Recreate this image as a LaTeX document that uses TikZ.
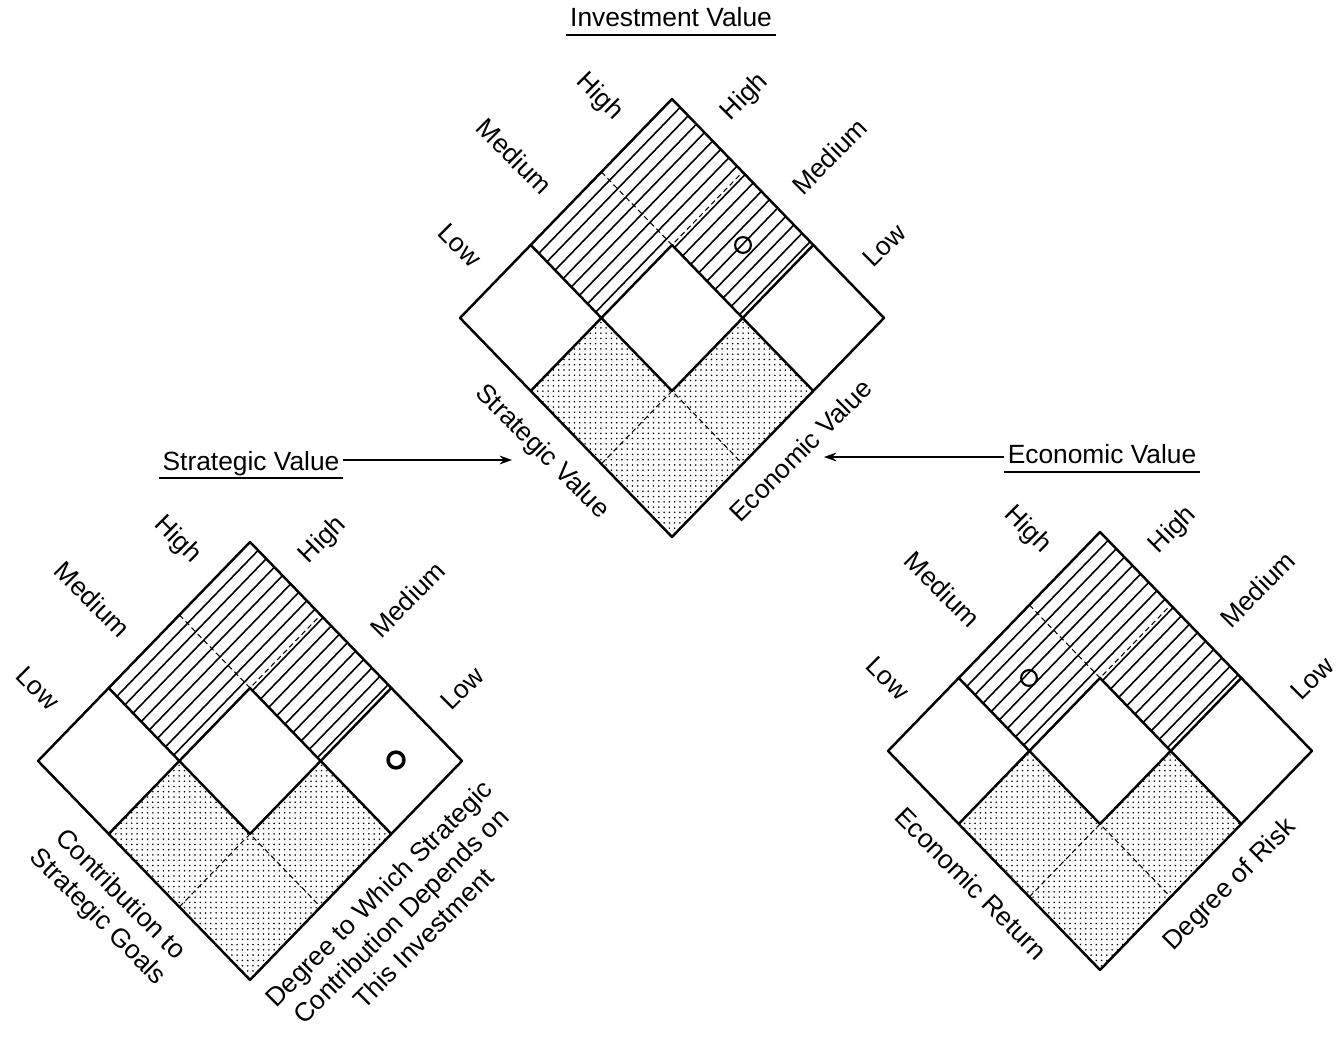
\documentclass[tikz,border=0pt]{standalone}
\usepackage{fontspec}
\setmainfont{Liberation Sans}
\usepackage{tikz}
\usetikzlibrary{patterns,arrows.meta}

% one rotated 3x3 value grid, #1 name, #2 top corner, #3 and #4 lower axis texts
\newcommand{\valuegrid}[4]{%
  \begin{scope}[shift={#2}, x={(-1.4133cm,-1.46cm)}, y={(1.4133cm,-1.46cm)}]
    % high cells
    \begin{scope}
      \clip (0,0) -- (2,0) -- (2,1) -- (1,1) -- (1,2) -- (0,2) -- cycle;
      \foreach \k in {1,...,17}
        \draw[hatchline] (-0.1,{\k*0.115}) -- (2.1,{\k*0.115});
    \end{scope}
    % low cells
    \fill[stipple] (3,1) -- (2,1) -- (2,2) -- (1,2) -- (1,3) -- (3,3) -- cycle;
    \draw[innerline] (1,0) -- (1,1) -- (0,1);
    \draw[innerline] (3,2) -- (2,2) -- (2,3);
    \draw[gridline] (2,0) -- (2,1) -- (1,1) -- (1,2) -- (0,2);
    \draw[gridline] (3,1) -- (2,1) -- (2,2) -- (1,2) -- (1,3);
    \draw[gridline] (0,0) -- (3,0) -- (3,3) -- (0,3) -- cycle;
    \node[leftlevel] (#1H) at (0.5,-0.24) {High};
    \node[leftlevel] (#1M) at (1.5,-0.24) {Medium};
    \node[leftlevel] (#1L) at (2.5,-0.24) {Low};
    \node[rightlevel] (#1h) at (-0.24,0.5) {High};
    \node[rightlevel] (#1m) at (-0.24,1.5) {Medium};
    \node[rightlevel] (#1l) at (-0.24,2.5) {Low};
    \node[leftaxis] (#1x) at (3.2,1.5) {#3};
    \node[rightaxis] (#1y) at (1.5,3.2) {#4};
  \end{scope}}

\begin{document}
\begin{tikzpicture}[x=0.02cm, y=-0.02cm,
    every node/.style={font=\fontsize{15}{18}\selectfont},
    title/.style={anchor=base, inner sep=2pt},
    underline/.style={line width=1.1pt},
    pointer/.style={line width=0.9pt, -{Stealth[length=7pt,width=5pt]}},
    gridline/.style={line width=1.4pt, line cap=round, line join=round},
    innerline/.style={line width=0.6pt, dash pattern=on 3pt off 2pt},
    hatchline/.style={line width=0.9pt},
    stipple/.style={pattern=dots, pattern color=black},
    leftlevel/.style={rotate=-45, anchor=east, inner sep=1pt},
    rightlevel/.style={rotate=45, anchor=west, inner sep=1pt},
    leftaxis/.style={rotate=-45, anchor=north, align=center, inner sep=1pt},
    rightaxis/.style={rotate=45, anchor=north, align=center, inner sep=1pt},
    spot/.style={circle, draw, line width=1.2pt, minimum size=9pt, inner sep=0pt}]
  \useasboundingbox (0,0) rectangle (1341,1050);

  \valuegrid{inv}{(672,99)}{Strategic Value}{Economic Value}
  \valuegrid{sv}{(250,542)}{Contribution to\\Strategic Goals}{Degree to Which Strategic\\Contribution Depends on\\This Investment}
  \valuegrid{ev}{(1100,532)}{Economic Return}{Degree of Risk}

  \node[spot] (inv spot) at (743,245) {};
  \node[spot, line width=2pt] (sv spot) at (396,760) {};
  \node[spot] (ev spot) at (1029,678) {};

  \node[title] (inv) at (671,27) {Investment Value};
  \node[title] (strat) at (251,470) {Strategic Value};
  \node[title] (econ) at (1102,463) {Economic Value};

  \draw[underline] ([yshift=-4.5pt]inv.base west) -- ([yshift=-4.5pt]inv.base east);
  \draw[underline] ([yshift=-4.5pt]strat.base west) -- ([yshift=-4.5pt]strat.base east);
  \draw[underline] ([yshift=-5pt]econ.base west) -- ([yshift=-5pt]econ.base east);

  \coordinate (sv tip) at (512,460);
  \coordinate (ev tip) at (824,457);
  \draw[pointer] (strat.east |- sv tip) -- (sv tip);
  \draw[pointer] (econ.west |- ev tip) -- (ev tip);
\end{tikzpicture}
\end{document}
